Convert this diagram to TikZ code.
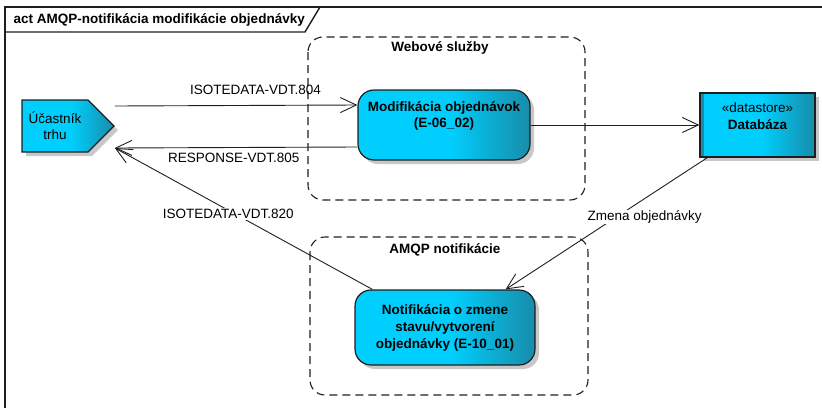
\documentclass[tikz,border=0pt]{standalone}
\usepackage{fontspec}
\setmainfont{Liberation Sans}
\usetikzlibrary{arrows.meta,shapes.symbols,shadows,positioning}

\definecolor{actcyan}{RGB}{0,206,252}
\definecolor{actteal}{RGB}{24,140,170}
\definecolor{actshadow}{RGB}{200,200,200}
\definecolor{actline}{RGB}{30,30,30}

\pgfdeclarehorizontalshading{actshade}{100bp}{color(0bp)=(actcyan); color(25bp)=(actcyan); color(52bp)=(actcyan); color(75bp)=(actteal); color(100bp)=(actteal)}

\tikzset{
  frameline/.style={draw=actline, line width=1.4pt},
  region/.style={draw=actline, line width=1.1pt, dash pattern=on 8pt off 5pt, rounded corners=15pt},
  regiontitle/.style={font=\bfseries},
  boldtext/.style={font=\bfseries},
  shaded/.style={shading=actshade,
    drop shadow={shadow xshift=4pt, shadow yshift=-4pt, fill=actshadow, opacity=1}},
  action/.style={shaded, draw=actline, line width=1.2pt, rounded corners=16pt},
  store/.style={shaded, draw=actline, line width=1.2pt, rectangle,
    path picture={\fill[actteal] (path picture bounding box.south west) rectangle ([xshift=4pt]path picture bounding box.north west);}},
  actor/.style={shaded, draw=actline, line width=1.2pt, signal, signal to=east, signal pointer angle=90,
    minimum width=92pt, minimum height=52pt, align=center},
  flow/.style={draw=actline, line width=0.9pt, -{Straight Barb[length=16pt,width=15pt,line width=0.9pt]}},
  edgelabel/.style={fill=white, inner sep=1pt}
}

\begin{document}
\fontsize{13.5}{16}\selectfont
\begin{tikzpicture}[x=1pt, y=-1pt]
  \useasboundingbox (0,0) rectangle (822,407);

  % diagram frame
  \draw[frameline] (5,420) -- (5,7) -- (830,7);
  \draw[frameline] (5,32) -- (305,32) -- (320,7);
  \node[anchor=west, boldtext] (title) at (9,20) {act AMQP-notifikácia modifikácie objednávky};

  % partitions
  \draw[region] (308,37) rectangle (585,200);
  \node[regiontitle] (webtitle) at (440,48) {Webové služby};
  \draw[region] (310,237) rectangle (588,395);
  \node[regiontitle] (amqptitle) at (445,250) {AMQP notifikácie};

  % actions
  \node[actor] (ucastnik) at (55,126) {Účastník\\trhu};

  \node[action, minimum width=172pt, minimum height=70pt] (modif) at (444,125) {};
  \node[boldtext, align=center] (modiftext) at ([yshift=9pt]modif.center) {Modifikácia objednávok\\(E-06\_02)};

  \node[store, minimum width=115pt, minimum height=64pt] (db) at (757.5,125) {};
  \node[align=center] (dbtext) at ([yshift=8.5pt]db.center) {«datastore»\\[1pt]\textbf{Databáza}};

  \node[action, minimum width=180pt, minimum height=75pt, boldtext, align=center] (notif) at (445,327.5)
    {Notifikácia o zmene\\[1pt]stavu/vytvorení\\[1pt]objednávky (E-10\_01)};

  % flows
  \draw[flow] ([yshift=20pt]ucastnik.east) -- node[pos=0.58, above=6pt] (lbl804) {ISOTEDATA-VDT.804} ([yshift=20pt]modif.west);
  \draw[flow] ([yshift=-22pt]modif.west) -- node[pos=0.51, below=1pt] (lbl805) {RESPONSE-VDT.805} ([yshift=-22pt]ucastnik.east);
  \draw[flow] (modif.east) -- (db.west);
  \draw[flow] ([xshift=8pt]db.south west) -- node[pos=0.45, xshift=28pt, edgelabel] (lblzmena) {Zmena objednávky} ([xshift=-30pt]notif.north east);
  \draw[flow] ([xshift=18pt]notif.north west) -- node[pos=0.56, yshift=-4pt, edgelabel] (lbl820) {ISOTEDATA-VDT.820} ([yshift=-22pt]ucastnik.east);
\end{tikzpicture}
\end{document}
